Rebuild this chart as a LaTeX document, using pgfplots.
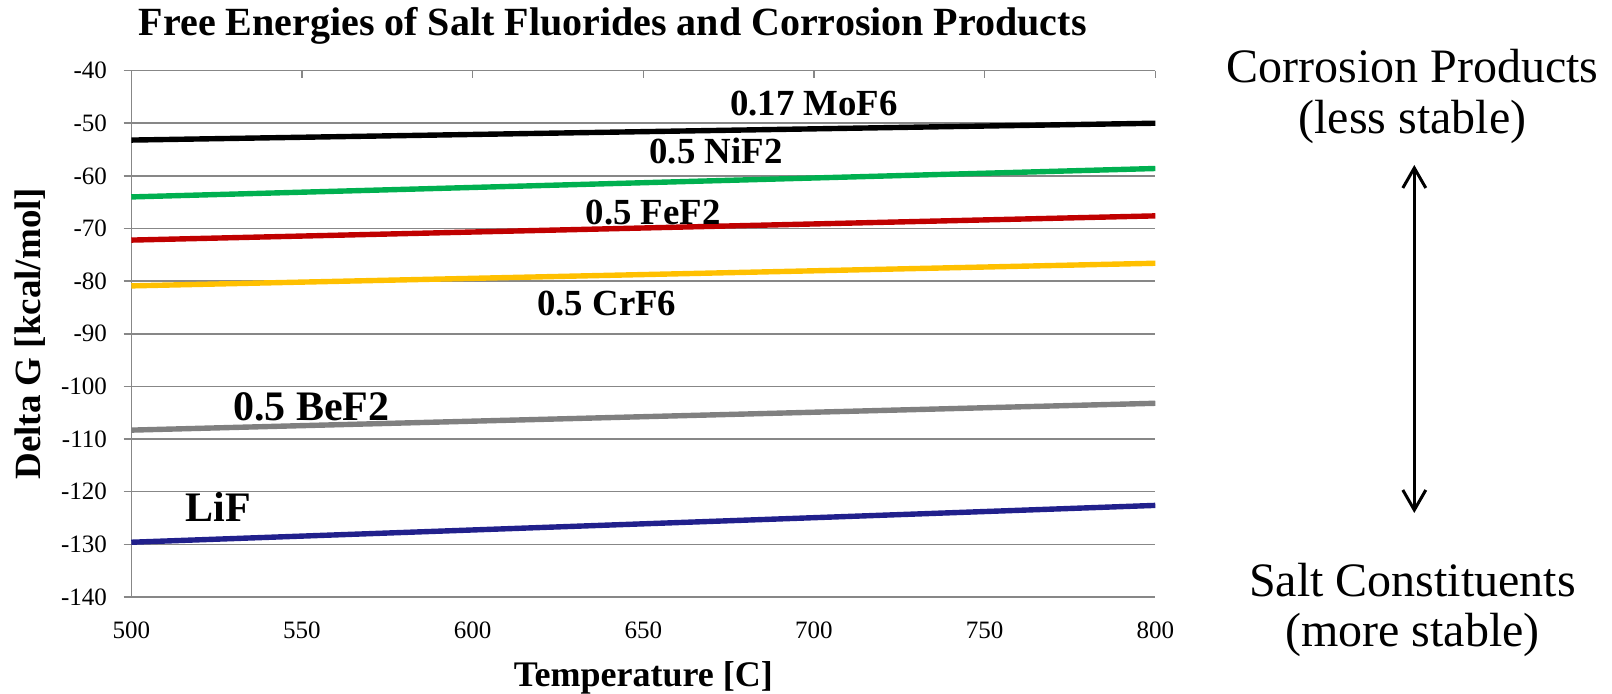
\documentclass[border=0pt]{standalone}
\usepackage{fontspec}
\setmainfont{Liberation Serif}
\usepackage{pgfplots}
\pgfplotsset{compat=1.18}
\usetikzlibrary{arrows.meta}
\definecolor{gridgray}{HTML}{878787}
\definecolor{cgreen}{HTML}{00B050}
\definecolor{cred}{HTML}{C00000}
\definecolor{cgold}{HTML}{FFC000}
\definecolor{cgray}{HTML}{808080}
\definecolor{cblue}{HTML}{21208C}

\begin{document}
\begin{tikzpicture}
\begin{axis}[
  at={(0,0)}, anchor=south west,
  scale only axis, width=512pt, height=263.2pt,
  xmin=500, xmax=800, ymin=-140, ymax=-40,
  clip=false,
  axis line style={draw=none},
  xtick={500,550,...,800}, xticklabels={500,550,600,650,700,750,800},
  ytick={-140,-130,...,-40},
  yticklabels={-140,-130,-120,-110,-100,-90,-80,-70,-60,-50,-40},
  xtick pos=right, xticklabel pos=left, ytick pos=left,
  tick align=inside, major tick length=3.8pt,
  tick style={gridgray, line width=0.75pt},
  every major y tick/.append style={xshift=-3.8pt},
  ymajorgrids, major grid style={gridgray, line width=0.75pt},
  extra x ticks={500}, extra x tick labels={}, extra x tick style={grid=major},
  xticklabel style={font=\fontsize{12.5}{15}\selectfont, anchor=base, inner sep=0pt, yshift=-20.65pt},
  yticklabel style={font=\fontsize{12.5}{15}\selectfont, anchor=east, inner sep=0pt, xshift=-12pt},
  title={Free Energies of Salt Fluorides and Corrosion Products},
  every axis title/.style={at={([yshift=17.3pt]axis description cs:0.4701,1)}, anchor=base, font=\bfseries\fontsize{20}{24}\selectfont},
  xlabel={Temperature [C]},
  every axis x label/.style={at={([yshift=-45pt]axis description cs:0.5,0)}, anchor=base, font=\bfseries\fontsize{18}{22}\selectfont},
  ylabel={Delta G [kcal/mol]},
  every axis y label/.style={at={([xshift=-45.6pt]axis description cs:0,0.5)}, rotate=90, anchor=base, font=\bfseries\fontsize{18.5}{22}\selectfont},
]
\addplot[black, line width=2.7pt] coordinates {(500,-53.2) (800,-50.0)};
\addplot[cgreen, line width=2.7pt] coordinates {(500,-64.0) (800,-58.6)};
\addplot[cred, line width=2.7pt] coordinates {(500,-72.2) (800,-67.6)};
\addplot[cgold, line width=2.7pt] coordinates {(500,-80.9) (800,-76.6)};
\addplot[cgray, line width=2.7pt] coordinates {(500,-108.3) (800,-103.2)};
\addplot[cblue, line width=2.7pt] coordinates {(500,-129.6) (800,-122.6)};

\node[anchor=base, font=\bfseries\fontsize{18.4}{22}\selectfont] at (axis cs:700.0,-48.6) {0.17 MoF6};
\node[anchor=base, font=\bfseries\fontsize{18.4}{22}\selectfont] at (axis cs:671.3,-57.7) {0.5 NiF2};
\node[anchor=base, font=\bfseries\fontsize{18.4}{22}\selectfont] at (axis cs:652.9,-69.3) {0.5 FeF2};
\node[anchor=base, font=\bfseries\fontsize{18.4}{22}\selectfont] at (axis cs:639.3,-86.6) {0.5 CrF6};
\node[anchor=base, font=\bfseries\fontsize{21}{25}\selectfont] at (axis cs:552.7,-106.4) {0.5 BeF2};
\node[anchor=base, font=\bfseries\fontsize{21}{25}\selectfont] at (axis cs:525.4,-125.6) {LiF};
\end{axis}

\node[anchor=base, inner sep=0pt, font=\fontsize{24}{28}\selectfont] at (640.6pt,257.15pt) {Corrosion Products};
\node[anchor=base, inner sep=0pt, font=\fontsize{24}{28}\selectfont] at (640.6pt,231.5pt) {(less stable)};
\node[anchor=base, inner sep=0pt, font=\fontsize{24}{28}\selectfont] at (640.6pt,0.15pt) {Salt Constituents};
\node[anchor=base, inner sep=0pt, font=\fontsize{24}{28}\selectfont] at (640.6pt,-25pt) {(more stable)};
\draw[line width=1.5pt, {Straight Barb[length=10pt,width=11.5pt]}-{Straight Barb[length=10pt,width=11.5pt]}] (641.5pt,42pt) -- (641.5pt,216pt);

\pgfresetboundingbox
\path[use as bounding box] (-65.65pt,-48.5pt) rectangle (740.35pt,298.5pt);
\end{tikzpicture}
\end{document}
